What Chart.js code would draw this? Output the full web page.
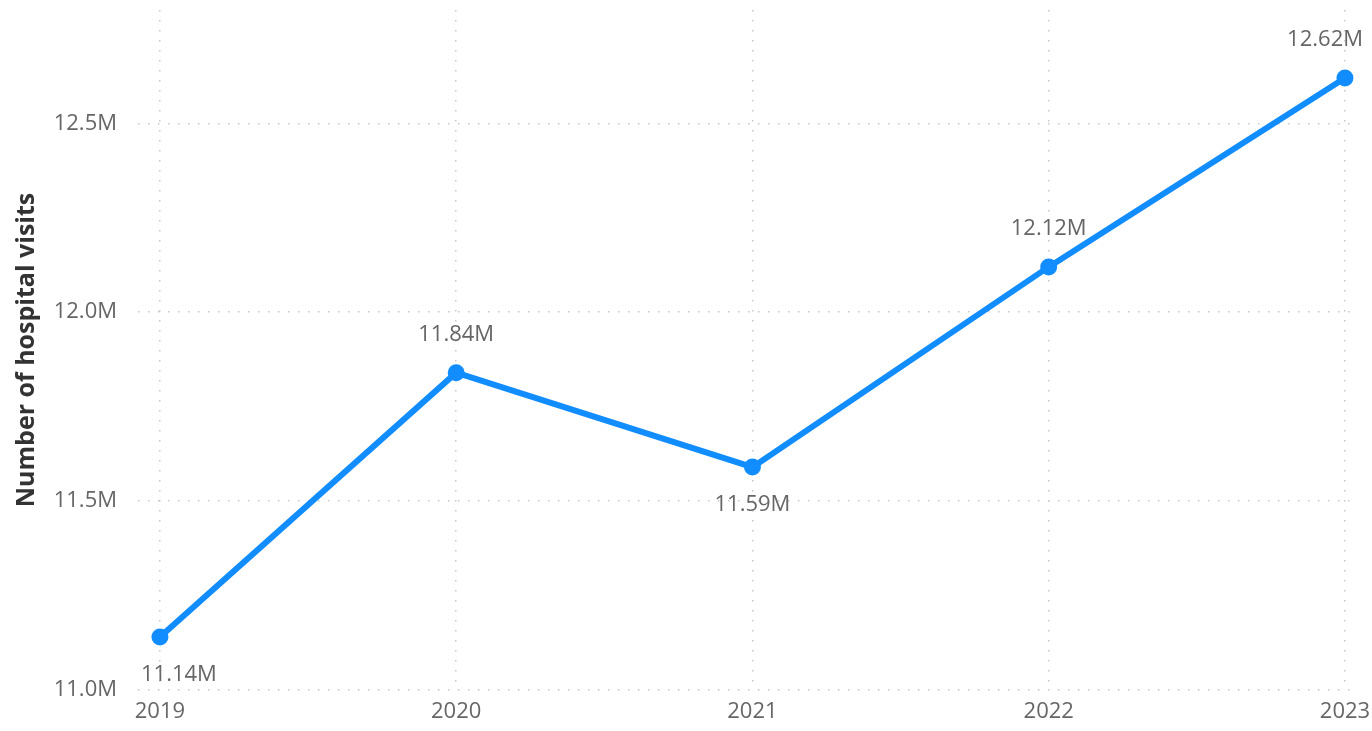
<!DOCTYPE html>
<html>
<head>
<meta charset="utf-8">
<script src="https://cdn.jsdelivr.net/npm/chart.js@4"></script>
<style>
  html, body { margin: 0; padding: 0; background: #ffffff; }
  #wrap { width: 1372px; height: 731px; }
</style>
</head>
<body>
<div id="wrap"><canvas id="visitsChart" width="1372" height="731"></canvas></div>
<script>
// --- DATA ---
const years = [2019, 2020, 2021, 2022, 2023];
const visits = [11.14, 11.84, 11.59, 12.12, 12.62]; // millions
const yTicks = [11.0, 11.5, 12.0, 12.5];
const axisTitle = 'Number of hospital visits';

const GRID = '#c8c8c8';
const TEXT = '#666666';

// --- DATA LABELS (no datalabels plugin available) ---
const pointLabels = {
    id: 'pointLabels',
    afterDatasetsDraw(chart) {
        const ctx = chart.ctx;
        const meta = chart.getDatasetMeta(0);
        const area = chart.chartArea;
        ctx.save();
        ctx.font = '22px "Open Sans"';
        ctx.fillStyle = TEXT;
        ctx.textBaseline = 'middle';
        ctx.textAlign = 'left';
        meta.data.forEach((pt, i) => {
            const txt = visits[i].toFixed(2) + 'M';
            const w = ctx.measureText(txt).width;
            const prev = visits[i - 1], next = visits[i + 1];
            const below = (prev === undefined || visits[i] < prev) && (next === undefined || visits[i] < next);
            let x = pt.x - w / 2;
            x = Math.max(area.left + 3, Math.min(x, chart.width - 9 - w));
            const y = below ? pt.y + 38 : pt.y - 38;
            ctx.fillText(txt, x, y);
        });
        ctx.restore();
    }
};

// keep the plot area exactly where the layout padding puts it
function noEdgePadding(s) {
    s.paddingTop = 0;
    s.paddingBottom = 0;
    s.paddingLeft = 0;
    s.paddingRight = 0;
}

const ctx = document.getElementById('visitsChart').getContext('2d');
const myChart = new Chart(ctx, {
    type: 'line',
    data: {
        datasets: [{
            data: years.map((yr, i) => ({ x: yr, y: visits[i] })),
            borderColor: '#118dff',
            backgroundColor: '#118dff',
            borderWidth: 6,
            pointRadius: 8.5,
            pointHoverRadius: 8.5,
            pointBorderWidth: 0,
            tension: 0
        }]
    },
    options: {
        responsive: false,
        animation: false,
        layout: { padding: { top: 10, right: 14, bottom: 0, left: 0 } },
        plugins: { legend: { display: false }, tooltip: { enabled: false } },
        scales: {
            x: {
                type: 'linear',
                min: 2018.926,
                max: 2023.044,
                afterFit: (s) => { s.height = 41; noEdgePadding(s); },
                afterBuildTicks: (s) => { s.ticks = years.map(v => ({ value: v })); },
                ticks: {
                    callback: (v) => String(v),
                    color: TEXT,
                    font: { family: 'Open Sans', size: 22 },
                    padding: 9,
                    maxRotation: 0
                },
                grid: { color: GRID, lineWidth: 1.5, drawTicks: false },
                border: { display: false, dash: [1.5, 8.5] }
            },
            y: {
                min: 11.0,
                max: 12.8,
                afterFit: (s) => { s.width = 138; noEdgePadding(s); },
                afterBuildTicks: (s) => { s.ticks = yTicks.map(v => ({ value: v })); },
                ticks: {
                    callback: (v) => v.toFixed(1) + 'M',
                    color: TEXT,
                    font: { family: 'Open Sans', size: 22 },
                    padding: 21
                },
                title: {
                    display: true,
                    text: axisTitle,
                    color: '#333333',
                    font: { family: 'Open Sans', size: 25, weight: 'bold' },
                    padding: { top: 12, bottom: 0 }
                },
                grid: { color: GRID, lineWidth: 1.5, drawTicks: false },
                border: { display: false, dash: [1.5, 8.5] }
            }
        }
    },
    plugins: [pointLabels]
});
</script>
</body>
</html>
